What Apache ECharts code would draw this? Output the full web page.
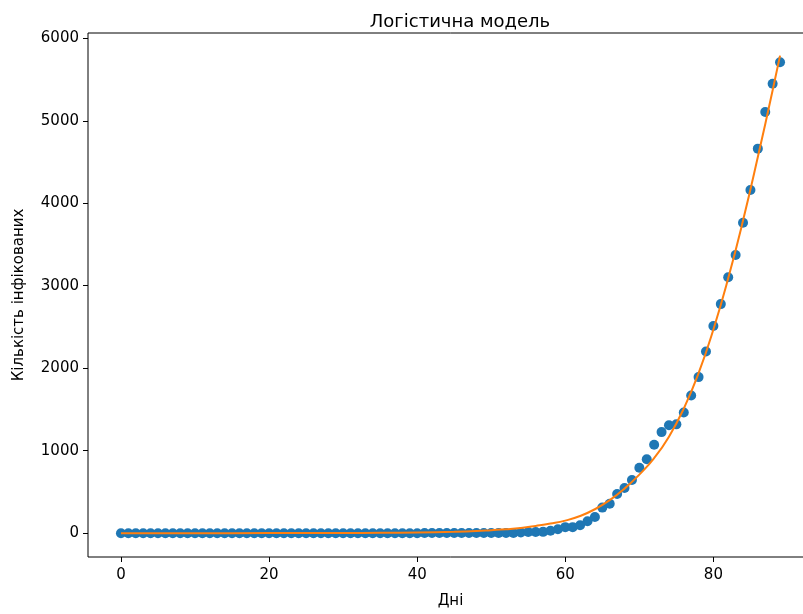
<!DOCTYPE html>
<html>
<head>
<meta charset="utf-8">
<script src="https://cdn.jsdelivr.net/npm/echarts@6/dist/echarts.min.js"></script>
<style>
  html, body { margin: 0; padding: 0; background: #fff; overflow: hidden; }
  /* the plot frame runs past the right edge of the window, as in the reference */
  #chart { width: 813px; height: 614px; }
</style>
</head>
<body>
<div id="chart"></div>
<script>
// daily cumulative cases, index = day number (0..89)
var cases = [
  0, 0, 0, 0, 0, 0, 0, 0, 0, 0,
  0, 0, 0, 0, 0, 0, 0, 0, 0, 0,
  0, 0, 0, 0, 0, 0, 0, 0, 0, 0,
  0, 0, 0, 0, 0, 0, 0, 0, 0, 0,
  0, 1, 1, 1, 1, 1, 1, 1, 1, 1,
  3, 3, 3, 3, 7, 14, 14, 16, 29, 47,
  73, 73, 97, 145, 196, 310, 356, 475, 548, 645,
  794, 897, 1072, 1225, 1308, 1319, 1462, 1668, 1892, 2203,
  2511, 2777, 3102, 3372, 3764, 4161, 4662, 5106, 5449, 5710
]

// fitted logistic curve
var fitDays = [0, 10, 20, 30, 35, 40, 45, 48, 50, 52, 54, 56, 58, 60, 62, 64, 66, 68, 70, 72, 74, 76, 78, 80, 82, 84, 86, 88, 89]
var fitValues = [0, 0, 1, 2, 4, 8, 16, 25, 36, 48, 64, 88, 116, 152, 208, 290, 400, 540, 710, 910, 1170, 1510, 1940, 2470, 3090, 3790, 4560, 5370, 5790]

var xTicks = [0, 20, 40, 60, 80]
var yTicks = [0, 1000, 2000, 3000, 4000, 5000, 6000]

var font = 'DejaVu Sans'
var chart = echarts.init(document.getElementById('chart'))

chart.setOption({
  animation: false,
  title: {
    text: 'Логістична модель',
    left: 455,
    top: 8,
    textAlign: 'center',
    textStyle: { fontFamily: font, fontSize: 18, fontWeight: 'normal', color: '#000' }
  },
  grid: {
    left: 88,
    right: 0,
    top: 33,
    bottom: 51,
    show: true,
    borderColor: '#000',
    borderWidth: 1,
    backgroundColor: '#fff'
  },
  xAxis: {
    type: 'value',
    min: -4.45,
    max: 93.45,
    name: 'Дні',
    nameLocation: 'middle',
    nameGap: 37,
    nameTextStyle: { fontFamily: font, fontSize: 15, color: '#000' },
    axisLine: { show: false, onZero: false },
    splitLine: { show: false },
    axisTick: { show: true, length: 5, customValues: xTicks, lineStyle: { color: '#000' } },
    axisLabel: {
      customValues: xTicks, margin: 11, fontFamily: font, fontSize: 15, color: '#000',
      formatter: function (v) { return String(v) }
    }
  },
  yAxis: {
    type: 'value',
    min: -289,
    max: 6064,
    name: 'Кількість інфікованих',
    nameLocation: 'middle',
    nameGap: 61,
    nameTextStyle: { fontFamily: font, fontSize: 15, color: '#000' },
    axisLine: { show: false, onZero: false },
    splitLine: { show: false },
    axisTick: { show: true, length: 5, customValues: yTicks, lineStyle: { color: '#000' } },
    axisLabel: {
      customValues: yTicks, margin: 9, fontFamily: font, fontSize: 15, color: '#000',
      formatter: function (v) { return String(v) }
    }
  },
  series: [
    {
      type: 'scatter',
      data: cases.map(function (v, i) { return [i, v] }),
      symbolSize: 10,
      itemStyle: { color: '#1f77b4', opacity: 1 },
      emphasis: { disabled: true },
      z: 2
    },
    {
      type: 'line',
      data: fitDays.map(function (d, i) { return [d, fitValues[i]] }),
      smooth: true,
      showSymbol: false,
      lineStyle: { color: '#ff7f0e', width: 2 },
      emphasis: { disabled: true },
      z: 3
    }
  ]
})
</script>
</body>
</html>
